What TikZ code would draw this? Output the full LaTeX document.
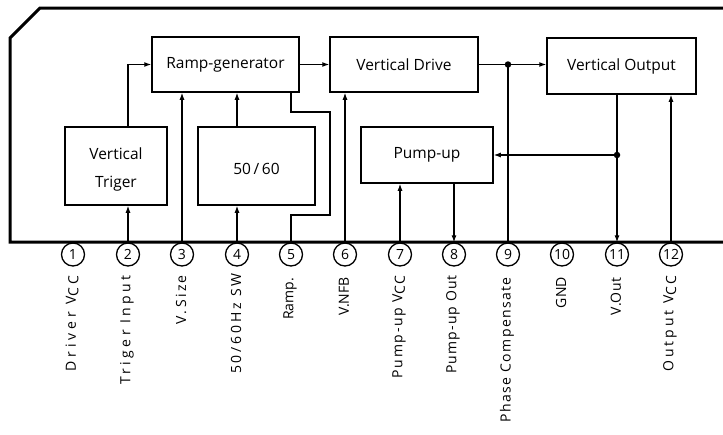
\documentclass[tikz,border=0pt]{standalone}
\usepackage{fontspec}
\setmainfont{Open Sans}
\usetikzlibrary{arrows.meta}
\newcommand{\vcc}{V\raisebox{-0.35ex}{CC}}
\newcommand{\ls}[2]{{\addfontfeature{LetterSpace=#1}#2}}
\begin{document}
\begin{tikzpicture}[x=1pt,y=-1pt,
  blk/.style={draw,line width=1.5pt,rectangle,inner sep=0pt,font=\fontsize{15.5}{17}\selectfont,align=center},
  pin/.style={draw,line width=1.3pt,circle,minimum size=23pt,inner sep=0pt,font=\fontsize{14}{14}\selectfont},
  lbl/.style={rotate=90,anchor=east,inner sep=0pt,font=\fontsize{14}{16}\selectfont},
  wire/.style={line width=1.2pt},
  arr/.style={wire,-{Latex[length=7pt,width=5pt]}},
  dotc/.style={circle,fill,inner sep=0pt,minimum size=6.5pt}]
\useasboundingbox (0,0) rectangle (723,434);
% outline
\draw[line width=3pt,line join=miter] (723,8) -- (40,8) -- (10,38) -- (10,242) -- (723,242);
% blocks
\node[blk,minimum width=147pt,minimum height=55pt] (ramp) at (225.5,64.5) {Ramp-generator};
\node[blk,minimum width=102pt,minimum height=78pt] (trig) at (116,166) {};
\node[font=\fontsize{15.5}{17}\selectfont,align=center] (trigtxt) at (116,169) {Vertical\\[11pt]Triger};
\node[blk,minimum width=117pt,minimum height=78pt] (sw) at (256.5,166) {};
\node[font=\fontsize{15.5}{17}\selectfont] (swtxt) at (256.5,169) {50\,/\,60};
\node[blk,minimum width=148pt,minimum height=55pt] (vd) at (404,64.5) {Vertical Drive};
\node[blk,minimum width=149pt,minimum height=56pt] (vo) at (621.5,66) {Vertical Output};
\node[blk,minimum width=132pt,minimum height=56pt] (pump) at (427,155) {Pump-up};
% pins
\foreach \i/\x in {1/73,2/128,3/182,4/237,5/291,6/345,7/400,8/454,9/508,10/562,11/617,12/671}
  \node[pin] (p\i) at (\x,254.5) {\i};
% labels
\node[lbl] (l1) at (72,275) {\ls{27}{Driver \vcc}};
\node[lbl] (l2) at (127,275) {\ls{24}{Triger Input}};
\node[lbl] (l3) at (181,275) {\ls{17}{V.Size}};
\node[lbl] (l4) at (236,273) {\ls{20}{50/60Hz SW}};
\node[lbl] (l5) at (290,278) {Ramp.};
\node[lbl] (l6) at (344,277) {V.NFB};
\node[lbl] (l7) at (399,275) {\ls{12}{Pump-up \vcc}};
\node[lbl] (l8) at (453,275) {\ls{8}{Pump-up Out}};
\node[lbl] (l9) at (507,277) {\ls{10}{Phase Compensate}};
\node[lbl] (l10) at (561,277) {GND};
\node[lbl] (l11) at (616,277) {\ls{5}{V.Out}};
\node[lbl] (l12) at (670,275) {\ls{21}{Output \vcc}};
% coordinates
\coordinate (c5a) at (330,112);
\coordinate (c5b) at (330,215);
\coordinate (d9) at (p9 |- vd.east);
\coordinate (d11) at (p11 |- pump.east);
% wires
\draw[arr] (p2.north) -- (p2 |- trig.south);
\draw[arr] (p2 |- trig.north) |- (ramp.west);
\draw[arr] (p3.north) -- (p3 |- ramp.south);
\draw[arr] (p4.north) -- (p4 |- sw.south);
\draw[arr] (p4 |- sw.north) -- (p4 |- ramp.south);
\draw[wire] (p5 |- ramp.south) -- (p5 |- c5a) -- (c5a) -- (c5b) -- (p5 |- c5b) -- (p5.north);
\draw[arr] (ramp.east) -- (vd.west);
\draw[arr] (p6.north) -- (p6 |- vd.south);
\draw[arr] (vd.east) -- (vo.west |- vd.east);
\node[dotc] (dot9) at (d9) {};
\draw[wire] (d9) -- (p9.north);
\draw[arr] (p11 |- vo.south) -- (p11.north);
\node[dotc] (dot11) at (d11) {};
\draw[arr] (d11) -- (pump.east);
\draw[arr] (p7.north) -- (p7 |- pump.south);
\draw[arr] (p8 |- pump.south) -- (p8.north);
\draw[arr] (p12.north) -- (p12 |- vo.south);
\end{tikzpicture}
\end{document}
